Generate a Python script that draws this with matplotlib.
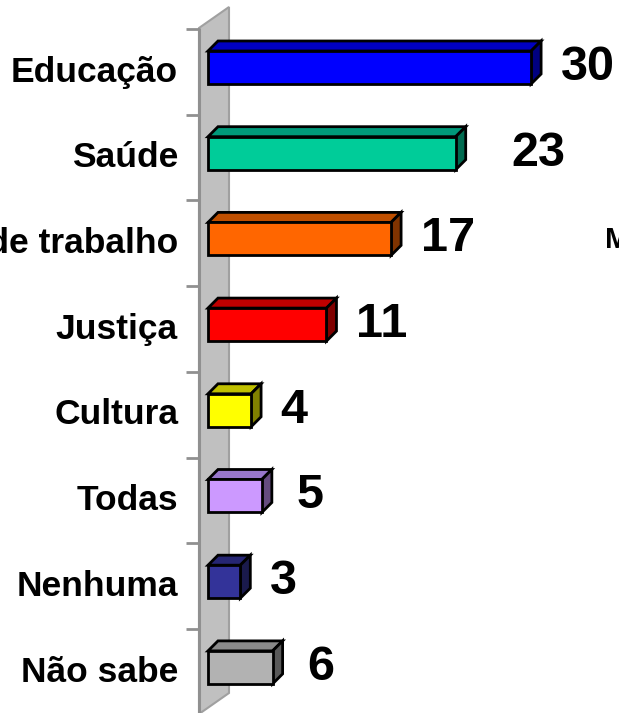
import matplotlib
matplotlib.use('Agg')
from matplotlib import pyplot as plt
from matplotlib.patches import Polygon

# Data
categories = ['Educação', 'Saúde', 'Mercado de trabalho', 'Justiça',
              'Cultura', 'Todas', 'Nenhuma', 'Não sabe']
values = [30, 23, 17, 11, 4, 5, 3, 6]
front_colors = ['#0000FF', '#00CC99', '#FF6600', '#FF0000',
                '#FFFF00', '#CC99FF', '#333399', '#B2B2B2']
top_colors = ['#0000C0', '#00997A', '#C04F00', '#C00000',
              '#C0C000', '#9977CC', '#262673', '#8A8A8A']
side_colors = ['#000080', '#006B50', '#803300', '#800000',
               '#808000', '#664C80', '#1A1A4C', '#595959']

# Layout in pixels (figure 619 x 713)
W, H = 619, 713
x0_px, px_unit = 208, 10.77
y0_px, row_px = 71.9, 85.7
depth_x = 10 / px_unit
depth_y = 10 / row_px
bar_top, bar_bot = -0.244, 0.141


def px_x(p):
    return (p - x0_px) / px_unit


def px_y(p):
    return (p - y0_px) / row_px


fig = plt.figure(figsize=(W / 100, H / 100), dpi=100)
ax = fig.add_axes([0, 0, 1, 1])
ax.set_xlim(px_x(0), px_x(W))
ax.set_ylim(px_y(H), px_y(0))
ax.axis('off')

# Gray wall
wall = Polygon([(px_x(199), px_y(28)), (px_x(229), px_y(7)),
                (px_x(229), px_y(693)), (px_x(199), px_y(714))],
               closed=True, facecolor='#C0C0C0', edgecolor='#A0A0A0',
               linewidth=1.5, zorder=1)
ax.add_patch(wall)
ax.plot([px_x(199), px_x(199)], [px_y(28), px_y(714)], color='#909090',
        lw=2.2, zorder=2, solid_capstyle='butt')

# Category ticks
for i in range(len(categories)):
    ax.plot([px_x(186), px_x(199)], [i - 0.5, i - 0.5], color='#909090',
            lw=2, zorder=2, solid_capstyle='butt')

# 3D bars
label_nudge = [0, 26, 0, 0, 0, 5, 0, 5]
for i, v in enumerate(values):
    t = i + bar_top
    b = i + bar_bot
    front = Polygon([(0, t), (v, t), (v, b), (0, b)])
    top = Polygon([(0, t), (v, t), (v + depth_x, t - depth_y),
                   (depth_x, t - depth_y)])
    side = Polygon([(v, t), (v + depth_x, t - depth_y),
                    (v + depth_x, b - depth_y), (v, b)])
    for poly, col in [(top, top_colors[i]), (side, side_colors[i]),
                      (front, front_colors[i])]:
        poly.set_facecolor(col)
        poly.set_edgecolor('black')
        poly.set_linewidth(2)
        poly.set_joinstyle('miter')
        poly.set_zorder(3)
        ax.add_patch(poly)

    # value label, baseline placed so digits are centred on the box
    box_mid = i + (bar_top - depth_y + bar_bot) / 2
    ax.annotate(str(v), xy=(v + depth_x, box_mid + 17.5 / row_px),
                xytext=(14 + label_nudge[i] * 0.72, 0), textcoords='offset points',
                ha='left', va='baseline', fontsize=35, fontweight='bold',
                family='Liberation Sans', zorder=4)

    ax.annotate(categories[i], xy=(0, i + 9.8 / row_px), xytext=(-21.6, 0),
                textcoords='offset points', ha='right', va='baseline',
                fontsize=25.5, fontweight='bold', family='Liberation Sans',
                zorder=4)

# Fragment of text cut at the right edge
fig.text(605 / W, 1 - 248 / H, 'M', ha='left', va='baseline', fontsize=21,
         fontweight='bold', family='Liberation Sans')

fig.savefig('out.png', dpi=100)
